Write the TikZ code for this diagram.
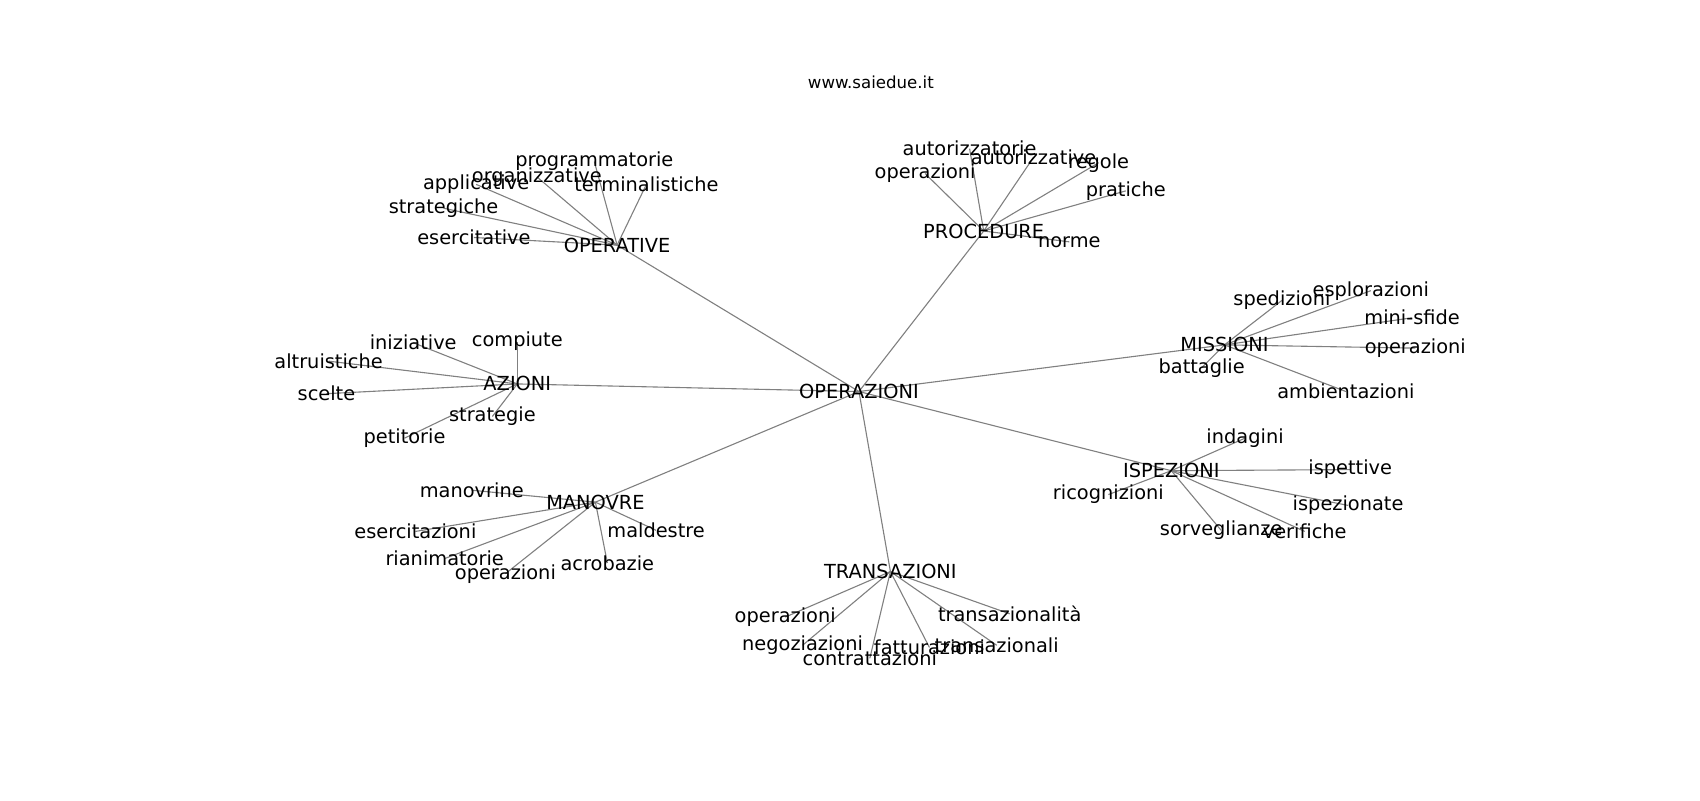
\documentclass[tikz,border=0pt]{standalone}
\usepackage{fontspec}
\setmainfont{DejaVu Sans}
\usetikzlibrary{backgrounds}
\begin{document}
\begin{tikzpicture}[x=0.010845in,y=-0.010845in,lab/.style={inner sep=0pt,font=\fontsize{14}{16}\selectfont},hub/.style={lab},edge/.style={draw=gray,line width=0.8pt}]
\useasboundingbox (0,0) rectangle (1567.5,737.7);

\node[inner sep=0pt,font=\fontsize{12}{14}\selectfont] (web) at (803,76) {www.saiedue.it};

\node[hub] (op) at (792,361) {OPERAZIONI};

\node[hub] (opv) at (569,226) {OPERATIVE};
\node[lab] (opv1) at (548,149) {programmatorie};
\node[lab] (opv2) at (495,163) {organizzative};
\node[lab] (opv3) at (439,170) {applicative};
\node[lab] (opv4) at (596,170) {terminalistiche};
\node[lab] (opv5) at (409,192) {strategiche};
\node[lab] (opv6) at (437,219) {esercitative};

\node[hub] (proc) at (907,213) {PROCEDURE};
\node[lab] (proc1) at (894,137) {autorizzatorie};
\node[lab] (proc2) at (953,145) {autorizzative};
\node[lab] (proc3) at (853,160) {operazioni};
\node[lab] (proc4) at (1013,150) {regole};
\node[lab] (proc5) at (1038,176) {pratiche};
\node[lab] (proc6) at (986,223) {norme};

\node[hub] (miss) at (1129,318) {MISSIONI};
\node[lab] (miss1) at (1182,277) {spedizioni};
\node[lab] (miss2) at (1264,268) {esplorazioni};
\node[lab] (miss3) at (1302,293) {mini-sfide};
\node[lab] (miss4) at (1305,321) {operazioni};
\node[lab] (miss5) at (1108,339) {battaglie};
\node[lab] (miss6) at (1241,361) {ambientazioni};

\node[hub] (isp) at (1080,434) {ISPEZIONI};
\node[lab] (isp1) at (1148,404) {indagini};
\node[lab] (isp2) at (1245,433) {ispettive};
\node[lab] (isp3) at (1022,456) {ricognizioni};
\node[lab] (isp4) at (1243,466) {ispezionate};
\node[lab] (isp5) at (1126,489) {sorveglianze};
\node[lab] (isp6) at (1203,490) {verifiche};

\node[hub] (trans) at (821,527) {TRANSAZIONI};
\node[lab] (trans1) at (724,569) {operazioni};
\node[lab] (trans2) at (931,566) {transazionalità};
\node[lab] (trans3) at (740,595) {negoziazioni};
\node[lab] (trans4) at (919,595) {transazionali};
\node[lab] (trans5) at (857,597) {fatturazioni};
\node[lab] (trans6) at (802,607) {contrattazioni};

\node[hub] (man) at (549,463) {MANOVRE};
\node[lab] (man1) at (435,452) {manovrine};
\node[lab] (man2) at (383,490) {esercitazioni};
\node[lab] (man3) at (605,489) {maldestre};
\node[lab] (man4) at (410,515) {rianimatorie};
\node[lab] (man5) at (466,529) {operazioni};
\node[lab] (man6) at (560,519) {acrobazie};

\node[hub] (az) at (477,354) {AZIONI};
\node[lab] (az1) at (381,316) {iniziative};
\node[lab] (az2) at (477,315) {compiute};
\node[lab] (az3) at (303,333) {altruistiche};
\node[lab] (az4) at (301,363) {scelte};
\node[lab] (az5) at (454,384) {strategie};
\node[lab] (az6) at (373,404) {petitorie};

% edges under the labels
\begin{pgfonlayer}{background}
\draw[edge] (op.center) -- (opv.center);
\draw[edge] (op.center) -- (proc.center);
\draw[edge] (op.center) -- (miss.center);
\draw[edge] (op.center) -- (isp.center);
\draw[edge] (op.center) -- (trans.center);
\draw[edge] (op.center) -- (man.center);
\draw[edge] (op.center) -- (az.center);

\draw[edge] (opv.center) -- (opv1.center);
\draw[edge] (opv.center) -- (opv2.center);
\draw[edge] (opv.center) -- (opv3.center);
\draw[edge] (opv.center) -- (opv4.center);
\draw[edge] (opv.center) -- (opv5.center);
\draw[edge] (opv.center) -- (opv6.center);

\draw[edge] (proc.center) -- (proc1.center);
\draw[edge] (proc.center) -- (proc2.center);
\draw[edge] (proc.center) -- (proc3.center);
\draw[edge] (proc.center) -- (proc4.center);
\draw[edge] (proc.center) -- (proc5.center);
\draw[edge] (proc.center) -- (proc6.center);

\draw[edge] (miss.center) -- (miss1.center);
\draw[edge] (miss.center) -- (miss2.center);
\draw[edge] (miss.center) -- (miss3.center);
\draw[edge] (miss.center) -- (miss4.center);
\draw[edge] (miss.center) -- (miss5.center);
\draw[edge] (miss.center) -- (miss6.center);

\draw[edge] (isp.center) -- (isp1.center);
\draw[edge] (isp.center) -- (isp2.center);
\draw[edge] (isp.center) -- (isp3.center);
\draw[edge] (isp.center) -- (isp4.center);
\draw[edge] (isp.center) -- (isp5.center);
\draw[edge] (isp.center) -- (isp6.center);

\draw[edge] (trans.center) -- (trans1.center);
\draw[edge] (trans.center) -- (trans2.center);
\draw[edge] (trans.center) -- (trans3.center);
\draw[edge] (trans.center) -- (trans4.center);
\draw[edge] (trans.center) -- (trans5.center);
\draw[edge] (trans.center) -- (trans6.center);

\draw[edge] (man.center) -- (man1.center);
\draw[edge] (man.center) -- (man2.center);
\draw[edge] (man.center) -- (man3.center);
\draw[edge] (man.center) -- (man4.center);
\draw[edge] (man.center) -- (man5.center);
\draw[edge] (man.center) -- (man6.center);

\draw[edge] (az.center) -- (az1.center);
\draw[edge] (az.center) -- (az2.center);
\draw[edge] (az.center) -- (az3.center);
\draw[edge] (az.center) -- (az4.center);
\draw[edge] (az.center) -- (az5.center);
\draw[edge] (az.center) -- (az6.center);
\end{pgfonlayer}
\end{tikzpicture}
\end{document}
